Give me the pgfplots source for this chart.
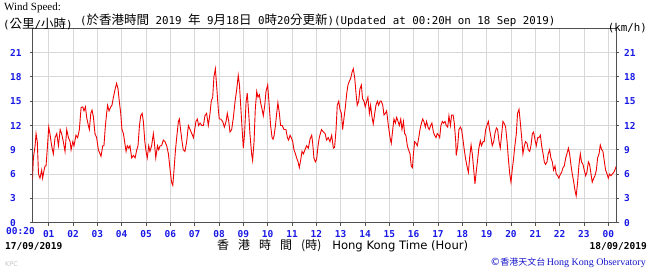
\documentclass[border=0pt]{standalone}
\usepackage{fontspec}
\usepackage{pgfplots}
\usepackage{pgfplotstable}
\pgfplotsset{compat=1.18}
\setmainfont{Liberation Serif}
\newfontfamily\mono{DejaVu Sans Mono}
\newfontfamily\cjk{Noto Sans CJK TC}
\newfontfamily\dvs{DejaVu Sans}
\definecolor{tickblue}{RGB}{25,25,230}
\definecolor{hkoblue}{RGB}{20,20,200}
\definecolor{gridgray}{RGB}{215,215,215}
\definecolor{axgray}{RGB}{80,80,80}
\definecolor{windred}{RGB}{240,0,0}
\newcommand{\M}[1]{{\mono\fontsize{10.8}{12}\selectfont #1}}
\newcommand{\C}[1]{{\cjk\fontsize{12.5}{13}\selectfont #1}}

\pgfplotstableread{
h v
0.33 5.3
0.37 8
0.44 9.5
0.48 11
0.53 10
0.58 6
0.64 5.5
0.71 6.5
0.75 5.5
0.81 6.5
0.85 7
0.89 7
0.95 9.5
1.00 11.8
1.05 11
1.12 9.5
1.19 8.5
1.26 10.5
1.33 11
1.40 9.5
1.47 11.5
1.53 11
1.60 10
1.67 8.8
1.74 11.5
1.81 10.5
1.88 10
1.92 9
1.99 10
2.04 9.5
2.12 10.8
2.19 10.5
2.26 11.5
2.33 14.2
2.40 14.3
2.45 13.8
2.51 14.3
2.56 13
2.63 12
2.67 11.5
2.73 13.5
2.78 13.9
2.84 13
2.90 11
2.97 10.5
3.04 9
3.11 8.5
3.15 8.2
3.22 9.5
3.27 9.5
3.33 12
3.38 13.5
3.42 14.5
3.48 13.8
3.55 14.3
3.60 14.5
3.66 15.5
3.73 16.5
3.79 17.2
3.85 16.5
3.90 15
3.96 13.5
4.01 11.5
4.07 11
4.12 10
4.18 8.8
4.23 9.5
4.29 9.2
4.34 9.5
4.41 8
4.48 8.3
4.55 8
4.62 9
4.67 9.5
4.73 12
4.78 13.2
4.84 13.5
4.89 12.5
4.95 10
5.00 8.8
5.05 8
5.11 9.5
5.16 8.8
5.23 9.5
5.30 11
5.34 10
5.40 8
5.47 9.5
5.52 9
5.58 9.5
5.64 9.5
5.71 10.2
5.78 10
5.85 9.5
5.92 8.5
5.99 6.5
6.05 5
6.10 4.6
6.15 6.5
6.21 9
6.26 10.5
6.33 12.5
6.37 12.8
6.42 11.5
6.48 10
6.53 9
6.60 8.8
6.67 10
6.74 12
6.81 11.5
6.88 11
6.95 10.5
7.00 11.5
7.05 12.5
7.11 12.8
7.16 12
7.22 12.3
7.29 12
7.36 12
7.42 13.2
7.49 13.5
7.56 12
7.63 13.5
7.68 15
7.74 15.5
7.79 18
7.85 19
7.90 17
7.97 14
8.01 12.8
8.07 12.8
8.15 12.5
8.22 11.8
8.29 12.5
8.34 13.5
8.40 12.5
8.45 11.2
8.52 11.5
8.59 13
8.66 15
8.73 16.5
8.79 18.2
8.84 17
8.89 14.5
8.95 11.5
9.00 9.2
9.05 11
9.11 14.8
9.16 16
9.22 13.5
9.27 11
9.34 8.5
9.38 7.7
9.44 10
9.49 14
9.55 16.2
9.60 15.5
9.66 15.8
9.71 14.8
9.77 14
9.82 13.2
9.88 14.5
9.93 16.2
10.00 17
10.05 15
10.12 12
10.18 10.5
10.22 10.3
10.26 10.7
10.32 12
10.37 13.5
10.42 14.8
10.48 13.5
10.53 12
10.60 12
10.67 11.5
10.75 11.5
10.81 10.5
10.86 10.2
10.92 10.8
10.97 10.5
11.03 10
11.08 9
11.14 8.5
11.19 8
11.25 7.5
11.30 6.8
11.36 7.8
11.41 8.8
11.47 8.5
11.53 9
11.60 9.5
11.67 9.2
11.74 10.3
11.81 10.8
11.85 9.8
11.90 8
11.96 7.5
12.01 7.8
12.07 9.5
12.12 10.5
12.21 11.5
12.29 11.2
12.36 11
12.42 10.2
12.49 10.5
12.56 10
12.63 10.8
12.70 9.2
12.75 9.3
12.81 11.5
12.86 14.5
12.92 15
12.97 14
13.03 13.5
13.08 11.5
13.14 13
13.19 14.2
13.25 16
13.30 17
13.36 17.5
13.41 17.8
13.47 18.6
13.52 19
13.58 17.8
13.63 16
13.68 14.5
13.74 15
13.79 16.5
13.85 17
13.90 15.3
13.96 15
14.01 14.3
14.07 15
14.12 15.5
14.18 13.5
14.23 14.5
14.29 13
14.34 12.2
14.40 13.5
14.45 14.5
14.51 15
14.56 14.5
14.62 15
14.67 15
14.73 14.5
14.78 13.3
14.84 13.5
14.89 13.8
14.96 12
15.03 10.5
15.08 9.8
15.14 11.5
15.19 12.8
15.25 12.3
15.30 13
15.36 12.5
15.41 12
15.47 12.8
15.52 11.5
15.58 12.5
15.63 11
15.68 10.8
15.74 9.5
15.79 9
15.85 8.5
15.90 7
15.95 6.8
15.99 8.5
16.04 10
16.10 9.8
16.15 9.5
16.21 10.5
16.26 11.5
16.32 12.3
16.37 12.8
16.42 12.5
16.48 11.8
16.53 12.5
16.59 11.8
16.64 11.5
16.70 12
16.75 12.3
16.81 11.2
16.86 10.8
16.92 10.5
16.97 11
17.03 10.8
17.07 10.5
17.12 12
17.18 12.5
17.23 12.3
17.29 12.5
17.34 12
17.40 11.8
17.45 13.2
17.51 12
17.56 13.3
17.62 13.3
17.67 12.3
17.73 10
17.75 8.3
17.81 9.5
17.86 11.5
17.92 11.8
17.97 11.5
18.03 10.2
18.08 9
18.14 7.8
18.19 7
18.25 6.2
18.30 8
18.36 9.6
18.41 8.5
18.47 6.5
18.52 4.8
18.58 6.5
18.63 7.8
18.68 9.2
18.74 10.1
18.79 9.5
18.85 10
18.90 10
18.96 11.5
19.01 12
19.07 12.5
19.12 11.5
19.18 10.5
19.23 9.5
19.29 10
19.34 11
19.40 11.7
19.45 11.5
19.51 10
19.56 9.2
19.62 11
19.67 12.5
19.73 12.2
19.78 11.8
19.84 10
19.89 8
19.95 6
20.00 5
20.05 6.5
20.11 8
20.16 9.5
20.22 11
20.27 13.5
20.33 14
20.38 12.5
20.44 10.5
20.49 8.5
20.55 9.5
20.60 10
20.66 9.8
20.71 9
20.77 8.8
20.82 9.5
20.88 11
20.93 11.2
20.99 10.2
21.04 9.5
21.10 10.5
21.15 10.5
21.21 10.8
21.26 9.5
21.32 8.5
21.37 7.5
21.42 7.2
21.48 7.5
21.53 8.5
21.59 9
21.64 8
21.70 7.5
21.75 6.5
21.81 7
21.86 6
21.92 5.8
21.97 5.5
22.03 6
22.08 6.2
22.14 6.8
22.19 7
22.25 8
22.30 8.5
22.36 9.2
22.41 8.5
22.47 7
22.52 6
22.58 5
22.63 4
22.68 3.3
22.74 5
22.79 7
22.85 8.5
22.90 7.5
22.96 7.2
23.01 6.5
23.07 5.8
23.12 6.2
23.18 7.5
23.23 7.2
23.29 6
23.34 5
23.40 5.5
23.45 5.8
23.51 6.5
23.56 8
23.62 8.5
23.67 9.6
23.73 9
23.78 8.8
23.84 7.5
23.89 6.5
23.95 6
24.00 5.5
24.05 6
24.11 5.8
24.16 6
24.22 6.2
24.27 6.5
24.33 7
}\wind

\begin{document}
\begin{tikzpicture}[x=1pt,y=1pt]
\useasboundingbox (0,0) rectangle (650,272);
\begin{axis}[
  at={(32.5pt,49.3pt)}, anchor=south west,
  scale only axis, width=583.9pt, height=194.4pt,
  xmin=0.3333, xmax=24.3333, ymin=0, ymax=24,
  xtick={1,...,24},
  xticklabels={01,02,03,04,05,06,07,08,09,10,11,12,13,14,15,16,17,18,19,20,21,22,23,00},
  ytick={0,3,...,21},
  xtick pos=bottom, ytick pos=left,
  grid=major, major grid style={gridgray, line width=0.8pt},
  axis line style={axgray, line width=0.8pt},
  tick align=outside, major tick length=3pt,
  tick style={axgray, line width=0.8pt},
  ticklabel style={font=\mono\bfseries\fontsize{9.5}{10}\selectfont, text=tickblue},
  xticklabel style={inner sep=1pt, yshift=-3.5pt},
  yticklabel style={anchor=west, xshift=-19.5pt, inner sep=0pt},
  /pgf/number format/assume math mode=true,
  extra x ticks={0.3333}, extra x tick labels={00:20},
  extra x tick style={grid=none, major tick length=0pt, xticklabel style={xshift=-12pt}},
]
\addplot[windred, line width=0.9pt] table[x=h,y=v]{\wind};
\end{axis}
\begin{axis}[
  at={(32.5pt,49.3pt)}, anchor=south west,
  scale only axis, width=583.9pt, height=194.4pt,
  xmin=0.3333, xmax=24.3333, ymin=0, ymax=24,
  hide x axis, axis y line*=right,
  ytick={0,3,...,21},
  axis line style={axgray, line width=0.8pt},
  tick align=outside, major tick length=3pt,
  tick style={axgray, line width=0.8pt},
  ticklabel style={font=\mono\bfseries\fontsize{9.5}{10}\selectfont, text=tickblue},
  yticklabel style={anchor=west, inner sep=0pt, xshift=4.5pt},
  /pgf/number format/assume math mode=true,
]
\end{axis}
\node[anchor=west, font=\fontsize{11}{12}\selectfont, inner sep=0pt] at (4,264) {Wind Speed:};
\node[anchor=west, inner sep=0pt] at (3,248) {\M{(}\C{公里}\M{/}\C{小時}\M{)}};
\node[anchor=west, inner sep=0pt] at (80,252) {\M{(}\C{於香港時間}\M{\ 2019\ }\C{年}\M{\ 9}\C{月}\M{18}\C{日}\M{\ 0}\C{時}\M{20}\C{分更新}\M{)(Updated at 00:20H on 18 Sep 2019)}};
\node[anchor=east, inner sep=0pt] at (647,244) {\M{(km/h)}};
\node[anchor=west, inner sep=0pt, font=\mono\bfseries\fontsize{9.5}{12}\selectfont] at (5,26) {17/09/2019};
\node[anchor=east, inner sep=0pt, font=\mono\bfseries\fontsize{9.5}{12}\selectfont] at (647,26) {18/09/2019};
\node[anchor=west, inner sep=0pt] at (217,26) {{\cjk\fontsize{12}{13}\selectfont 香\hspace{9pt}港\hspace{9pt}時\hspace{9pt}間\hspace{9pt}(時)}\hspace{11pt}{\dvs\fontsize{11.6}{13}\selectfont Hong Kong Time (Hour)}};
\node[anchor=west, inner sep=0pt, text=black!22, font=\dvs\fontsize{6.5}{8}\selectfont] at (5,8) {KPC};
\node[anchor=east, inner sep=0pt, text=hkoblue] at (646,9) {{\dvs\fontsize{10}{12}\selectfont ©}{\cjk\fontsize{9}{12}\selectfont 香港天文台}\,{\fontsize{10}{12}\selectfont Hong Kong Observatory}};
\end{tikzpicture}
\end{document}
